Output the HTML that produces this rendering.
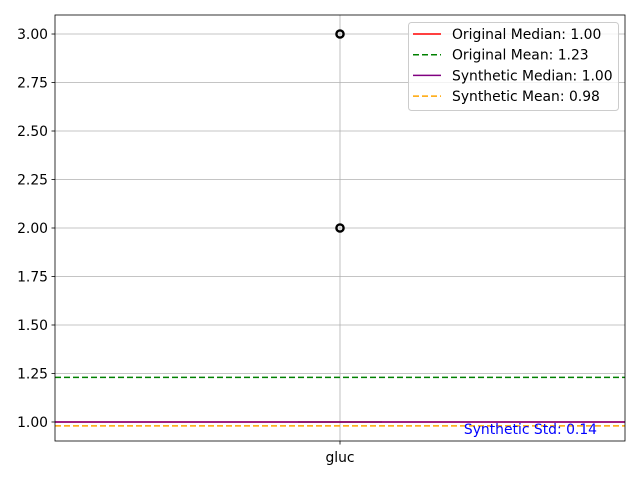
<!DOCTYPE html>
<html><head><meta charset="utf-8"><style>
body{margin:0;background:#fff;}
svg text{font-family:"DejaVu Sans","Liberation Sans",sans-serif;}
</style></head><body>
<svg id="chart" width="640" height="480">
</svg>
<script>
const yTicks=[1.00,1.25,1.50,1.75,2.00,2.25,2.50,2.75,3.00];
const categories=["gluc"];
const outliers=[2,3];
const boxMedian=[1.0];
const refLines=[
 {label:"Original Median: 1.00",value:1.00,color:"red",dash:""},
 {label:"Original Mean: 1.23",value:1.23,color:"green",dash:"6,3"},
 {label:"Synthetic Median: 1.00",value:1.00,color:"purple",dash:""},
 {label:"Synthetic Mean: 0.98",value:0.98,color:"orange",dash:"6,3"}
];
const stdText="Synthetic Std: 0.14";
const ns="http://www.w3.org/2000/svg";
const svg=document.getElementById('chart');
const L=55,R=625,T=15,B=441,yMin=0.902,yMax=3.098;
const FS=13.9;
const y=v=>B-(v-yMin)/(yMax-yMin)*(B-T);
const x=i=>L+(i+0.5)*(R-L)/categories.length;
function mk(t,a,p){const e=document.createElementNS(ns,t);for(const k in a)e.setAttribute(k,a[k]);(p||svg).appendChild(e);return e;}
yTicks.forEach(v=>{
 const g=mk('line',{x1:L,x2:R,y1:y(v),y2:y(v),stroke:'#b0b0b0','stroke-width':0.8});
 
 
 mk('line',{x1:L-3.5,x2:L,y1:y(v),y2:y(v),stroke:'#000','stroke-width':0.8});
 const t=mk('text',{x:L-7,y:y(v)+5,'text-anchor':'end','font-size':FS,fill:'#000'});
 t.textContent=v.toFixed(2);
 
 
});
categories.forEach((c,i)=>{
 const g=mk('line',{x1:x(i),x2:x(i),y1:T,y2:B,stroke:'#b0b0b0','stroke-width':0.8});
 
 
 mk('line',{x1:x(i),x2:x(i),y1:B,y2:B+3.5,stroke:'#000','stroke-width':0.8});
 const t=mk('text',{x:x(i),y:B+21,'text-anchor':'middle','font-size':FS});
 t.textContent=c;
 
 
 const m=mk('line',{x1:x(i)-42,x2:x(i)+42,y1:y(boxMedian[i]),y2:y(boxMedian[i]),stroke:'#2ca02c','stroke-width':1.5});
 
 
 outliers.forEach(o=>{
  const c2=mk('circle',{cx:x(i),cy:y(o),r:3.6,fill:'none',stroke:'#000','stroke-width':2.4});
  
  
 });
});
refLines.forEach(r=>{
 const l=mk('line',{x1:L,x2:R,y1:y(r.value),y2:y(r.value),stroke:r.color,'stroke-width':1.5,'stroke-dasharray':r.dash});
 
 
});
const st=mk('text',{x:597,y:434,'text-anchor':'end','font-size':FS,fill:'blue'});
st.textContent=stdText;


const fr=mk('rect',{x:L,y:T,width:R-L,height:B-T,fill:'none',stroke:'#000','stroke-width':0.8});


const lg=mk('g',{});


mk('rect',{x:408.5,y:22.5,width:210,height:88,rx:3,fill:'#fff','fill-opacity':0.8,stroke:'#ccc'},lg);
refLines.forEach((r,i)=>{
 const yy=34+i*20.7;
 const e=mk('g',{},lg);
 
 
 mk('line',{x1:413,x2:441,y1:yy,y2:yy,stroke:r.color,'stroke-width':1.5,'stroke-dasharray':r.dash},e);
 const t=mk('text',{x:452,y:yy+5,'font-size':FS},e);
 t.textContent=r.label;
});
</script>
</body></html>
